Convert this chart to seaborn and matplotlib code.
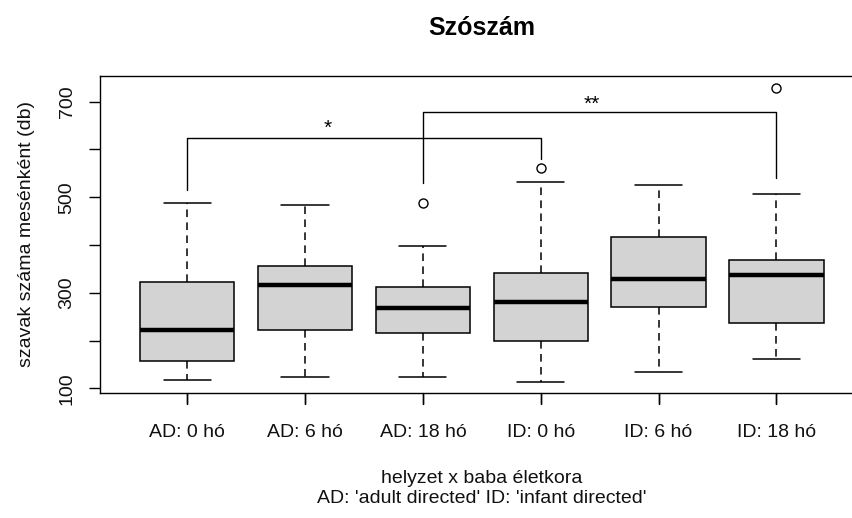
import numpy as np
import pandas as pd
import matplotlib
matplotlib.use("Agg")
import matplotlib.pyplot as plt
import matplotlib.transforms as mtransforms
from matplotlib.lines import Line2D
import seaborn as sns

# ---- data ----
categories = ["AD: 0 hó", "AD: 6 hó", "AD: 18 hó", "ID: 0 hó", "ID: 6 hó", "ID: 18 hó"]
whisker_low = [118, 124, 124, 113, 135, 162]
q1 = [157, 221, 215, 198, 270, 237]
median = [221, 317, 268, 281, 328, 337]
q3 = [323, 355, 311, 342, 416, 369]
whisker_high = [488, 483, 397, 532, 526, 507]
outliers = [[], [], [488], [562], [], [728]]

# significance brackets (category index, value)
br1_x = [0, 0, 3, 3]
br1_y = [515, 623, 623, 580]
br2_x = [2, 2, 5, 5]
br2_y = [529, 679, 679, 540]
sig_labels = ["*", "**"]
sig_x = [1.19, 3.43]
sig_y = [632, 682]

yticks = [100, 200, 300, 400, 500, 600, 700]
ytick_labels = ["100", "", "300", "", "500", "", "700"]

title = "Szószám"
ylabel = "szavak száma mesénként (db)"
xlabel1 = "helyzet x baba életkora"
xlabel2 = "AD: 'adult directed' ID: 'infant directed'"

# build a long table whose quartiles / whiskers reproduce the summary values
rows = []
for i, cat in enumerate(categories):
    vals = [whisker_low[i], q1[i], q1[i], median[i], median[i], q3[i], q3[i], whisker_high[i]] + outliers[i]
    for v in vals:
        rows.append({"group": cat, "value": v})
df = pd.DataFrame(rows)

sns.set_style("white")
plt.rcParams["font.family"] = ["Liberation Sans", "DejaVu Sans"]
plt.rcParams["xtick.bottom"] = True
plt.rcParams["ytick.left"] = True

W, H = 853, 518
fig = plt.figure(figsize=(W / 100, H / 100), dpi=100)
left, right, top, bottom = 100, 853, 75.7, 393.3
ax = fig.add_axes([left / W, 1 - bottom / H, (right - left) / W, (bottom - top) / H])

lw = 1.1
sns.boxplot(data=df, x="group", y="value", order=categories, ax=ax,
            color="#D3D3D3", linecolor="black", linewidth=lw, width=0.8,
            whis=1.5, saturation=1,
            whiskerprops=dict(linestyle=(0, (5, 3.5)), color="black", linewidth=lw),
            capprops=dict(color="black", linewidth=lw),
            medianprops=dict(color="black", linewidth=3.2),
            boxprops=dict(edgecolor="black", linewidth=lw),
            flierprops=dict(marker="o", markersize=6.5, markerfacecolor="none",
                            markeredgecolor="black", markeredgewidth=1.0))

ax.plot(br1_x, br1_y, color="black", linewidth=1.0)
ax.plot(br2_x, br2_y, color="black", linewidth=1.0)
for s, sx, sy in zip(sig_labels, sig_x, sig_y):
    ax.text(sx, sy, s, ha="center", va="baseline", fontsize=15, color="black")

ax.set_xlim(-0.74, 5.65)
ax.set_ylim(89.5, 754.4)
ax.set_yticks(yticks)
ax.set_yticklabels(ytick_labels, rotation=90, va="center")
ax.set_xticks(range(len(categories)))
ax.set_xticklabels(categories)
ax.set_xlabel("")
ax.set_ylabel("")
ax.tick_params(axis="both", which="major", direction="out", length=8, width=1.0,
               color="black", labelsize=14, labelcolor="#111111",
               bottom=True, left=True, top=False, right=False)
ax.tick_params(axis="x", pad=14)
ax.tick_params(axis="y", pad=9.5)
for name, sp in ax.spines.items():
    sp.set_color("black")
    sp.set_linewidth(1.0)
ax.spines["right"].set_visible(False)

# x tick marks at the category positions, added at figure level on top of everything
tick_frac = 11 / (bottom - top)
blend = mtransforms.blended_transform_factory(ax.transData, ax.transAxes)
for pos in range(len(categories)):
    fig.add_artist(Line2D([pos, pos], [0, -tick_frac], transform=blend,
                          color="black", linewidth=1.0, zorder=50, clip_on=False))

cx = ((100 + 863.6) / 2) / W
fig.text(cx, 1 - 35 / H, title, ha="center", va="baseline", fontsize=18,
         fontweight="bold", color="black")
fig.text(cx, 1 - 482.7 / H, xlabel1, ha="center", va="baseline", fontsize=14, color="#111111")
fig.text(cx, 1 - 503.3 / H, xlabel2, ha="center", va="baseline", fontsize=14, color="#111111")
fig.text(31 / W, 1 - 234 / H, ylabel, rotation=90, ha="center", va="baseline",
         rotation_mode="anchor", fontsize=14, color="#111111")

fig.savefig("out.png", dpi=100, facecolor="white")
